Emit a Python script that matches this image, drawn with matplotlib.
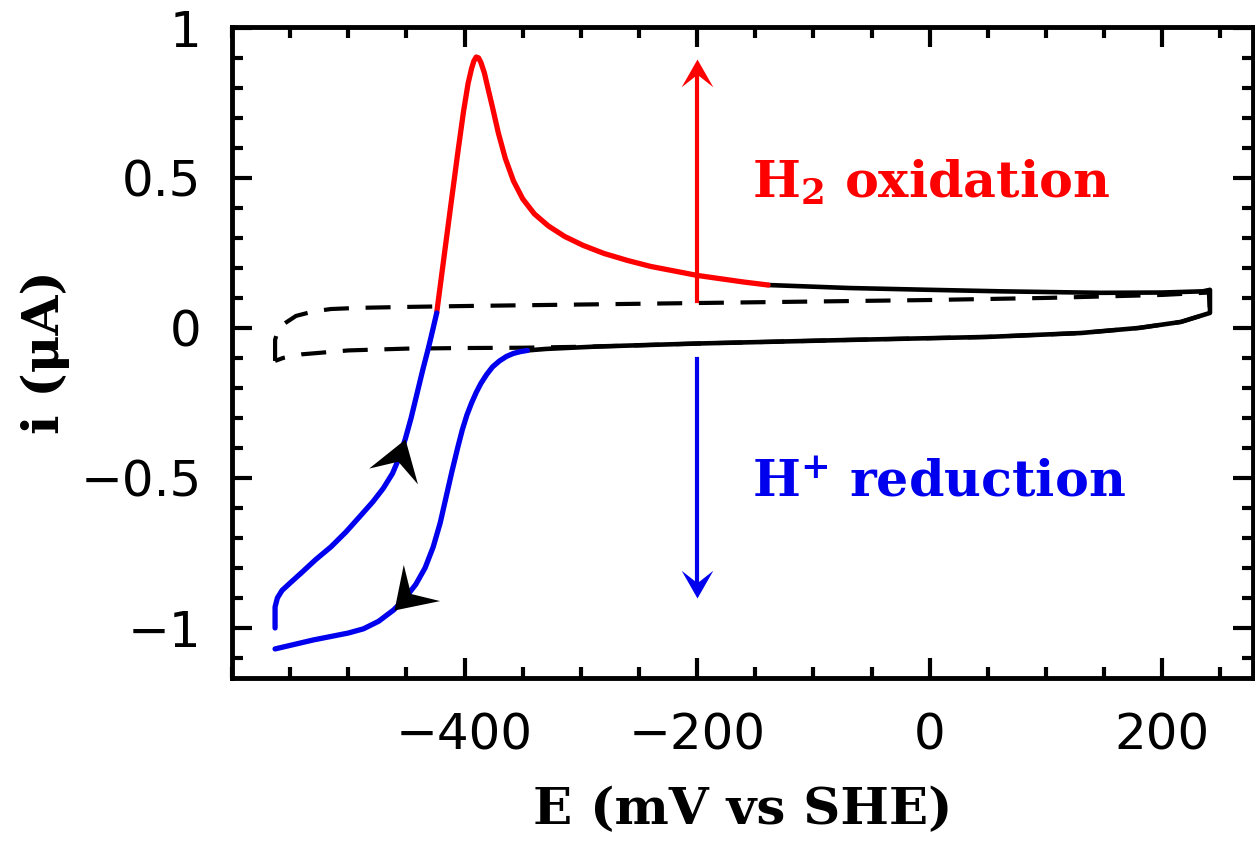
#!/usr/bin/env python3
"""Cyclic voltammogram of H2 oxidation / H+ reduction vs a blank scan."""

import matplotlib

matplotlib.use("Agg")
import matplotlib.pyplot as plt
import numpy as np
from matplotlib.markers import MarkerStyle
from matplotlib.path import Path
from matplotlib.ticker import FixedLocator, FuncFormatter, MultipleLocator
from matplotlib.transforms import Affine2D

# blank electrode scan (dashed loop), E in mV vs SHE, i in uA
blank_E = [-563, -563, -560, -554, -545, -530, -515, -490, -450, -400, -300, -200,
           -100, 0, 100, 200, 240, 241, 216, 180, 130, 50, -69, -200, -286, -350,
           -400, -450, -500, -540, -556, -563]
blank_i = [-0.11, -0.04, 0.0, 0.017, 0.04, 0.055, 0.063, 0.067, 0.07, 0.073, 0.078,
           0.083, 0.088, 0.093, 0.1, 0.11, 0.118, 0.05, 0.02, 0.0, -0.017, -0.03,
           -0.04, -0.052, -0.062, -0.066, -0.067, -0.069, -0.075, -0.088, -0.1, -0.11]

# anodic sweep, H2 oxidation wave (red)
ox_E = [-424, -418, -412, -406, -401, -397, -394, -392, -390, -388, -386, -383,
        -380, -376, -371, -365, -358, -350, -340, -328, -314, -298, -280, -260,
        -240, -220, -200, -180, -160, -139]
ox_i = [0.05, 0.228, 0.405, 0.58, 0.72, 0.815, 0.865, 0.89, 0.903, 0.9, 0.885, 0.85,
        0.8, 0.735, 0.65, 0.565, 0.49, 0.43, 0.38, 0.34, 0.305, 0.275, 0.248, 0.225,
        0.205, 0.19, 0.175, 0.164, 0.153, 0.143]

# remaining catalyst scan in black: anodic to the vertex, then back cathodic
base_E = [-139, -69, 0, 61, 147, 200, 235, 241, 241, 216, 180, 130, 50, -69, -200,
          -286, -330, -346]
base_i = [0.143, 0.133, 0.127, 0.122, 0.117, 0.118, 0.122, 0.127, 0.05, 0.02, 0.0,
          -0.017, -0.03, -0.04, -0.052, -0.062, -0.07, -0.075]

# cathodic sweep, H+ reduction wave (blue)
red_dn_E = [-346, -352, -358, -364, -370, -376, -381, -386, -390, -394, -398, -402,
            -406, -411, -416, -421, -427, -434, -442, -452, -461, -474, -487, -500,
            -530, -563]
red_dn_i = [-0.075, -0.079, -0.085, -0.095, -0.11, -0.13, -0.155, -0.185, -0.215,
            -0.25, -0.29, -0.34, -0.4, -0.48, -0.565, -0.65, -0.73, -0.8, -0.855,
            -0.905, -0.94, -0.978, -1.003, -1.017, -1.04, -1.07]

# return from the negative vertex (blue) up to the oxidation onset
red_up_E = [-563, -563, -561, -557, -550, -540, -528, -515, -502, -490, -479, -470,
            -462, -456, -451, -446, -441, -436, -431, -427, -424]
red_up_i = [-1.0, -0.93, -0.9, -0.875, -0.85, -0.815, -0.772, -0.73, -0.68, -0.628,
            -0.58, -0.535, -0.485, -0.43, -0.37, -0.3, -0.22, -0.14, -0.065, 0.0, 0.05]

SERIF = "DejaVu Serif"
RED = "#ff0000"
BLUE = "#0000ee"


def fmt_tick(v, _pos):
    return f"{v:g}".replace("-", "\u2212")


def add_head(ax, x0, y0, x1, y1, size, color, half_width=0.66, notch=0.6):
    """Notched arrowhead with its tip at (x1, y1), pointing away from (x0, y0)."""
    (px0, py0), (px1, py1) = ax.transData.transform([(x0, y0), (x1, y1)])
    ang = np.degrees(np.arctan2(py1 - py0, px1 - px0))
    path = Path([(0, 0), (-1, half_width), (-notch, 0), (-1, -half_width), (0, 0)],
                [Path.MOVETO, Path.LINETO, Path.LINETO, Path.LINETO, Path.CLOSEPOLY])
    marker = MarkerStyle(path, transform=Affine2D().rotate_deg(ang))
    ax.plot([x1], [y1], marker=marker, markersize=size, color=color,
            linestyle="none", markeredgewidth=0, zorder=6)


def main() -> None:
    plt.rcParams["mathtext.fontset"] = "dejavuserif"

    fig = plt.figure(figsize=(12.55, 8.47), dpi=100)
    ax = fig.add_axes([0.1849, 0.1995, 0.8135, 0.7686])
    ax.set_xlim(-600, 278)
    ax.set_ylim(-1.167, 1.003)

    ax.plot(blank_E, blank_i, color="black", lw=3.0, dashes=(6, 4), zorder=2)
    solid = dict(solid_joinstyle="round", solid_capstyle="round")
    ax.plot(base_E, base_i, color="black", lw=3.3, zorder=3, **solid)
    ax.plot(ox_E, ox_i, color=RED, lw=3.8, zorder=4, **solid)
    ax.plot(red_dn_E, red_dn_i, color=BLUE, lw=3.8, zorder=4, **solid)
    ax.plot(red_up_E, red_up_i, color=BLUE, lw=3.8, zorder=4, **solid)

    # scan direction arrowheads sitting on the reduction branches
    k = red_up_E.index(-451)
    add_head(ax, red_up_E[k - 1], red_up_i[k - 1], red_up_E[k], red_up_i[k], 56, "black")
    k = red_dn_E.index(-461)
    add_head(ax, red_dn_E[k - 1], red_dn_i[k - 1], red_dn_E[k], red_dn_i[k], 56, "black")

    # oxidation / reduction indicator arrows
    ax.plot([-200, -200], [0.09, 0.85], color=RED, lw=3, zorder=4)
    add_head(ax, -200, 0.09, -200, 0.895, 40, RED, half_width=0.57, notch=0.55)
    ax.plot([-200, -200], [-0.105, -0.855], color=BLUE, lw=3, zorder=4)
    add_head(ax, -200, -0.105, -200, -0.9, 40, BLUE, half_width=0.57, notch=0.55)

    ax.text(-153, 0.437, r"H$_\mathbf{2}$ oxidation", color=RED, fontsize=36.5,
            family=SERIF, weight="bold", ha="left", va="baseline")
    ax.text(-153, -0.563, r"H$^\mathbf{+}$ reduction", color=BLUE, fontsize=36.5,
            family=SERIF, weight="bold", ha="left", va="baseline")

    ax.xaxis.set_major_locator(FixedLocator([-400, -200, 0, 200]))
    ax.xaxis.set_minor_locator(MultipleLocator(50))
    ax.yaxis.set_major_locator(FixedLocator([-1, -0.5, 0, 0.5, 1]))
    ax.yaxis.set_minor_locator(MultipleLocator(0.1))
    ax.xaxis.set_major_formatter(FuncFormatter(fmt_tick))
    ax.yaxis.set_major_formatter(FuncFormatter(fmt_tick))

    ax.tick_params(which="both", direction="in", top=True, right=True, width=3)
    ax.tick_params(which="major", length=14.5)
    ax.tick_params(which="minor", length=8)
    ax.tick_params(axis="x", which="major", pad=24, labelsize=36)
    ax.tick_params(axis="y", which="major", pad=22, labelsize=36)
    for lab in ax.get_xticklabels() + ax.get_yticklabels():
        lab.set_family("DejaVu Sans")
    for sp in ax.spines.values():
        sp.set_linewidth(3.5)

    ax.set_xlabel("E (mV vs SHE)", family=SERIF, weight="bold", fontsize=37, va="center")
    ax.set_ylabel("i (μA)", family=SERIF, weight="bold", fontsize=37, va="center")
    ax.xaxis.set_label_coords(0.5, -0.203)
    ax.yaxis.set_label_coords(-0.183, 0.5)

    fig.savefig("out.png", dpi=100)
    plt.close(fig)


if __name__ == "__main__":
    main()
